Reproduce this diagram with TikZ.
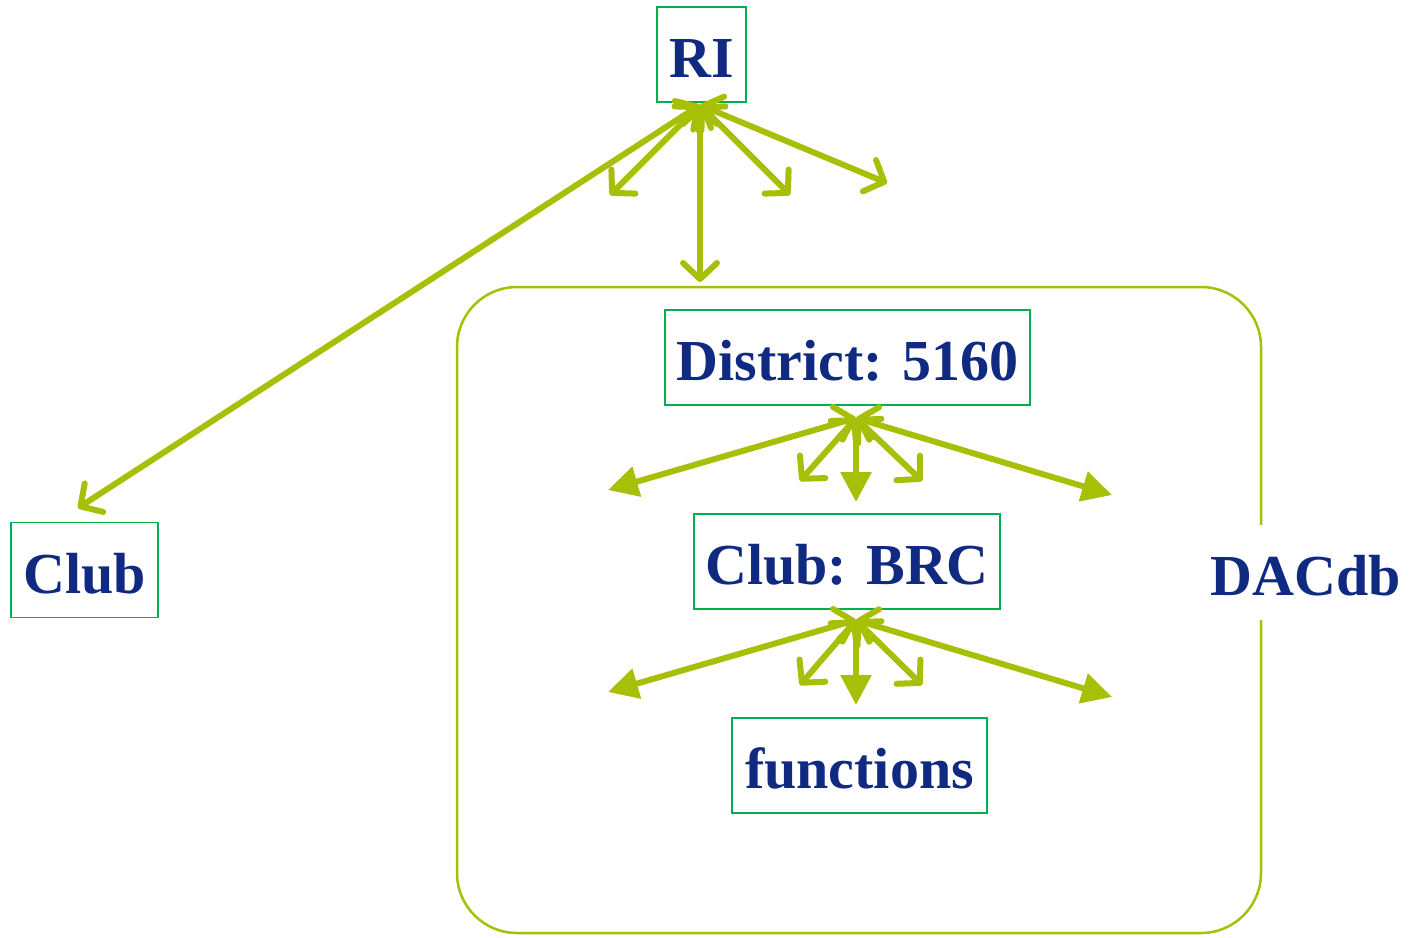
\documentclass[tikz,border=0pt]{standalone}
\usepackage{fontspec}
\setmainfont{Liberation Serif}
\usepackage{tikz}
\usetikzlibrary{arrows.meta, positioning}
\definecolor{riblue}{RGB}{16,42,130}
\definecolor{boxgreen}{RGB}{0,176,80}
\definecolor{linkgreen}{RGB}{168,191,8}
\tikzstyle{unit} = [draw=boxgreen, line width=1.5pt, text=riblue, font=\fontsize{58}{70}\selectfont\bfseries, minimum height=95pt, text height=46pt, text depth=0pt, inner sep=0pt]
\tikzstyle{link} = [draw=linkgreen, line width=6pt, {Straight Barb[length=16pt,width=34pt,round]}-{Straight Barb[length=16pt,width=34pt,round]}]
\tikzstyle{flink} = [draw=linkgreen, line width=6pt, {Straight Barb[length=16pt,width=34pt,round]}-{Triangle[length=30pt,width=30pt]}]

\begin{document}
\begin{tikzpicture}[x=1pt, y=-1pt]
\useasboundingbox (0,0) rectangle (1410,937);
\draw[linkgreen, line width=2.5pt, rounded corners=60pt] (457,287) rectangle (1261,933);
\node (ri) [unit, minimum width=89pt] at (701.5,54.5) {RI};
\node (club) [unit, minimum width=147pt] at (84.5,570) {Club};
\node (dist) [unit, minimum width=365pt] at (847.5,357.5) {District: 5160};
\node (brc) [unit, minimum width=306pt] at (847,561.5) {Club: BRC};
\node (func) [unit, minimum width=255pt] at (859.5,765.5) {functions};
\node (dacdb) [fill=white, text=riblue, font=\fontsize{58}{70}\selectfont\bfseries, minimum height=95pt, text height=46pt, text depth=0pt, inner sep=0pt] at (1306,572) {DACdb};
% hubs under the boxes
\coordinate (ri hub) at (700,105);
\coordinate (dist hub) at (856,418);
\coordinate (brc hub) at (856,620);
% free ends
\coordinate (club tip) at (78,508);
\coordinate (ri a) at (610,195);
\coordinate (ri b) at (700,282);
\coordinate (ri c) at (790,195);
\coordinate (ri d) at (887,183);
\coordinate (dist a) at (608,490);
\coordinate (dist b) at (800,481);
\coordinate (dist c) at (856,502);
\coordinate (dist d) at (922,481);
\coordinate (dist e) at (1112,495);
\coordinate (brc a) at (608,692);
\coordinate (brc b) at (800,685);
\coordinate (brc c) at (856,705);
\coordinate (brc d) at (922,685);
\coordinate (brc e) at (1112,697);
\draw[link] (ri hub) -- (club tip);
\draw[link] (ri hub) -- (ri a);
\draw[link] (ri hub) -- (ri b);
\draw[link] (ri hub) -- (ri c);
\draw[link] (ri hub) -- (ri d);
\draw[flink] (dist hub) -- (dist a);
\draw[link] (dist hub) -- (dist b);
\draw[flink] (dist hub) -- (dist c);
\draw[link] (dist hub) -- (dist d);
\draw[flink] (dist hub) -- (dist e);
\draw[flink] (brc hub) -- (brc a);
\draw[link] (brc hub) -- (brc b);
\draw[flink] (brc hub) -- (brc c);
\draw[link] (brc hub) -- (brc d);
\draw[flink] (brc hub) -- (brc e);
\end{tikzpicture}
\end{document}
